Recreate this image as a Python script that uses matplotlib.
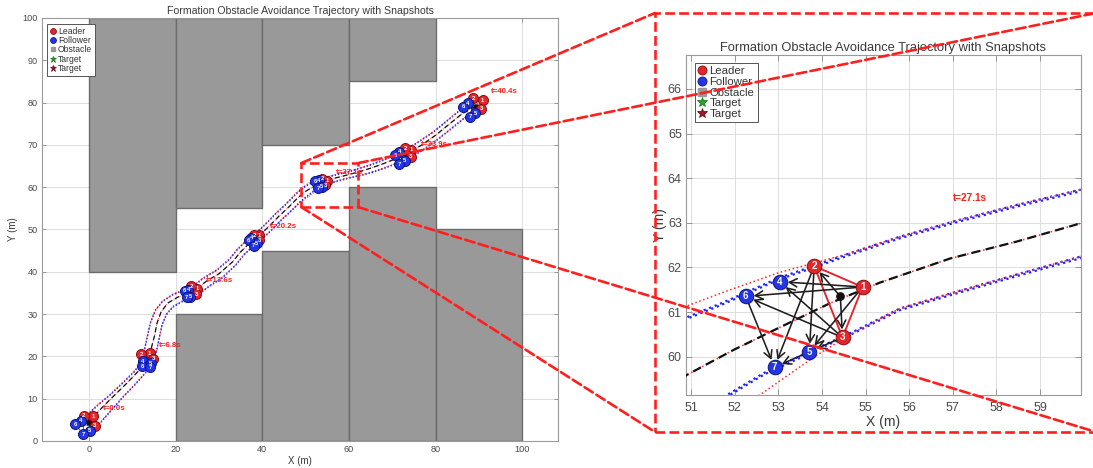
import matplotlib
matplotlib.use("Agg")
import matplotlib.pyplot as plt
import matplotlib.transforms as mtransforms
from matplotlib.patches import Rectangle, ConnectionPatch
from matplotlib.lines import Line2D

plt.rcParams['font.family'] = ['Liberation Sans', 'DejaVu Sans']

# ---------------- data ----------------
# obstacles (lower-left corner, width, height)
obs_x0 = [0, 20, 40, 60, 20, 40, 60, 80]
obs_y0 = [40, 55, 70, 85, 0, 0, 0, 0]
obs_w = [20, 20, 20, 20, 20, 20, 20, 20]
obs_h = [60, 45, 30, 15, 30, 45, 60, 50]

# formation reference path (also followed by leader 1)
center_x = [0.1, 2.4, 4.8, 8.7, 11.7, 13.4, 14.4, 15.2, 15.7, 16.7, 18.2, 20.5, 22.8, 24.5, 27.0,
            30.1, 33.2, 34.9, 36.9, 38.9, 41.3, 43.8, 46.2, 48.2, 49.8, 50.9, 51.97, 53.04, 54.19,
            55.33, 56.94, 58.47, 59.94, 62.5, 65.0, 67.5, 70.0, 73.4, 76.5, 80.0, 83.0, 86.0, 89.3]
center_y = [4.6, 7.2, 9.7, 13.6, 16.8, 18.7, 21.9, 25.1, 27.8, 30.6, 32.6, 34.0, 34.9, 35.6, 37.7,
            39.6, 42.4, 44.6, 46.6, 48.2, 50.5, 53.1, 55.4, 57.5, 58.9, 59.59, 60.15, 60.66, 61.2,
            61.66, 62.2, 62.58, 62.99, 63.7, 64.5, 65.4, 66.4, 67.9, 69.8, 72.3, 74.8, 77.3, 79.2]

# left-side track (followers 4, 6 and leader 2)
upper_x = [-0.9, 1.9, 4.8, 8.0, 10.6, 12.0, 12.8, 13.5, 14.2, 15.3, 17.0, 19.4, 22.0, 24.0, 26.3,
           29.4, 32.4, 34.2, 36.2, 38.2, 40.6, 43.1, 45.5, 47.6, 49.2, 50.94, 51.7, 53.0, 54.65,
           55.79, 57.17, 58.47, 59.92, 62.3, 64.8, 67.2, 69.6, 72.9, 75.9, 79.4, 82.4, 85.4, 88.6]
upper_y = [5.7, 8.4, 10.9, 14.0, 16.6, 18.6, 21.5, 24.8, 28.0, 30.9, 33.1, 34.7, 35.8, 36.6, 38.5,
           40.4, 43.0, 45.3, 47.3, 48.9, 51.2, 53.8, 56.1, 58.3, 59.8, 60.9, 61.2, 61.76, 62.32,
           62.69, 63.07, 63.4, 63.74, 64.5, 65.3, 66.2, 67.2, 68.8, 70.7, 73.1, 75.6, 78.1, 80.6]
lead2_y = [5.7, 8.4, 10.9, 14.0, 16.6, 18.6, 21.5, 24.8, 28.0, 30.9, 33.1, 34.7, 35.8, 36.6, 38.5,
           40.4, 43.0, 45.3, 47.3, 48.9, 51.2, 53.8, 56.1, 58.5, 60.05, 61.15, 61.43, 61.88, 62.32,
           62.69, 63.07, 63.4, 63.74, 64.5, 65.3, 66.2, 67.2, 68.8, 70.7, 73.1, 75.6, 78.1, 80.6]

# right-side track (followers 5, 7 and leader 3)
lower_x = [1.8, 4.8, 7.9, 10.9, 13.4, 14.9, 15.7, 16.3, 16.9, 17.9, 19.4, 21.2, 23.1, 25.0, 27.7,
           30.8, 34.0, 35.6, 37.6, 39.6, 42.0, 44.5, 46.9, 48.8, 50.4, 51.82, 52.66, 53.8, 54.72,
           55.79, 57.0, 58.5, 59.92, 62.8, 65.3, 67.9, 70.5, 73.9, 77.1, 80.6, 83.7, 86.7, 90.2]
lower_y = [3.4, 6.9, 10.5, 13.7, 16.6, 19.0, 21.8, 24.7, 27.6, 30.0, 31.8, 32.9, 33.8, 34.5, 36.6,
           38.7, 41.8, 43.9, 45.9, 47.5, 49.8, 52.4, 54.7, 56.7, 58.0, 59.14, 59.63, 60.15, 60.56,
           61.08, 61.43, 61.85, 62.24, 62.9, 63.6, 64.5, 65.5, 67.0, 68.9, 71.5, 74.0, 76.5, 78.8]
lead3_y = [3.4, 6.9, 10.5, 13.7, 16.6, 19.0, 21.8, 24.7, 27.6, 30.0, 31.8, 32.9, 33.8, 34.5, 36.6,
           38.7, 41.8, 43.9, 45.9, 47.5, 49.8, 52.4, 54.7, 56.3, 57.5, 58.65, 59.2, 59.98, 60.54,
           61.08, 61.43, 61.85, 62.24, 62.9, 63.6, 64.5, 65.5, 67.0, 68.9, 71.5, 74.0, 76.5, 78.8]

# snapshots
snap_time = ['t=0.0s', 't=6.8s', 't=13.6s', 't=20.2s', 't=27.1s', 't=33.9s', 't=40.4s']
snap_cx = [0.1, 13.7, 24.3, 38.9, 54.42, 73.2, 89.3]
snap_cy = [4.6, 19.7, 35.5, 48.2, 61.35, 68.0, 78.9]
label_x = [3.2, 16.1, 27.1, 41.8, 57.0, 76.5, 92.8]
label_y = [7.6, 22.5, 37.9, 50.6, 63.55, 70.2, 82.6]

agent_ids = [1, 2, 3, 4, 5, 6, 7]
leader_ids = [1, 2, 3]
agent_x = [
    [0.99, -1.15, 1.38, -1.84, 0.23, -3.2, -1.3],
    [14.0, 12.1, 14.9, 12.4, 14.3, 12.3, 14.1],
    [25.0, 23.6, 24.8, 22.9, 23.4, 22.1, 22.6],
    [39.3, 38.1, 39.3, 37.5, 38.7, 36.9, 38.0],
    [54.93, 53.82, 54.47, 53.03, 53.71, 52.25, 52.91],
    [74.4, 72.9, 74.2, 71.6, 72.9, 70.6, 71.6],
    [90.8, 88.7, 90.5, 87.4, 89.1, 86.4, 88.0],
]
agent_y = [
    [5.9, 6.0, 3.6, 4.8, 2.4, 4.0, 1.6],
    [20.7, 20.5, 19.5, 18.8, 18.4, 17.7, 17.4],
    [36.0, 36.6, 34.7, 35.7, 34.1, 35.5, 34.0],
    [48.6, 48.6, 47.4, 48.0, 46.8, 47.5, 46.2],
    [61.56, 62.03, 60.43, 61.68, 60.11, 61.35, 59.76],
    [68.8, 69.2, 67.2, 68.4, 66.2, 67.6, 65.4],
    [80.6, 81.0, 78.5, 79.8, 77.5, 79.0, 76.7],
]
# communication graph (0 = virtual leader / formation centre)
leader_links = [(1, 2), (2, 3), (3, 1)]
graph_src = [1, 1, 1, 2, 2, 3, 3, 3, 6, 5, 0, 0]
graph_dst = [4, 6, 5, 5, 7, 4, 6, 5, 7, 7, 2, 3]

# highlighted region on the overview map: xmin, xmax, ymin, ymax
zoom_box = [49.0, 62.1, 55.3, 65.7]

legend_labels = ['Leader', 'Follower', 'Obstacle', 'Target', 'Target']
title = 'Formation Obstacle Avoidance Trajectory with Snapshots'

# ---------------- style ----------------
RED = '#e3262b'
RED_EDGE = '#8a0d10'
BLUE = '#2435e6'
BLUE_EDGE = '#0b157a'
RED_PATH = '#ff2d2d'
BLUE_PATH = '#1f22ff'
OBS_FACE = '#999999'
OBS_EDGE = '#6c6c6c'
ZOOM_RED = '#ff1f1f'
TXT = '#3a3a3a'

W, H = 1093, 468
fig = plt.figure(figsize=(W / 100, H / 100), dpi=100)


def fx(px):
    return px / W


def fy(py):
    return 1 - py / H


axL = fig.add_axes([fx(42), fy(441), fx(558) - fx(42), fy(18) - fy(441)])
axR = fig.add_axes([fx(686), fy(395), fx(1081) - fx(686), fy(55) - fy(395)])

axL.set_xlim(-10.8, 108.2)
axL.set_ylim(0, 100)
axR.set_xlim(50.88, 59.94)
axR.set_ylim(59.14, 66.76)


def draw_obstacles(ax, lw):
    for x0, y0, w, h in zip(obs_x0, obs_y0, obs_w, obs_h):
        ax.add_patch(Rectangle((x0, y0), w, h, facecolor=OBS_FACE, edgecolor=OBS_EDGE,
                               lw=lw, zorder=1))


def draw_paths(ax, lw, shift_pt, dash):
    down = ax.transData + mtransforms.ScaledTranslation(0, -shift_pt / 72, fig.dpi_scale_trans)
    # followers
    ax.plot(upper_x, upper_y, ls=':', color=BLUE_PATH, lw=lw, zorder=2)
    ax.plot(upper_x, upper_y, ls=':', color=BLUE_PATH, lw=lw, zorder=2, transform=down)
    ax.plot(lower_x, lower_y, ls=':', color=BLUE_PATH, lw=lw, zorder=2)
    ax.plot(lower_x, lower_y, ls=':', color=BLUE_PATH, lw=lw, zorder=2, transform=down)
    # leaders
    ax.plot(upper_x, lead2_y, ls=':', color=RED_PATH, lw=lw * 0.7, zorder=2)
    ax.plot(lower_x, lead3_y, ls=':', color=RED_PATH, lw=lw * 0.7, zorder=2)
    ax.plot(center_x, center_y, ls=':', color=RED_PATH, lw=lw * 0.7, zorder=2)
    # formation reference
    ax.plot(center_x, center_y, ls=(0, dash), color='#111111', lw=lw, zorder=3)


def draw_snapshots(ax, ms, num_fs, lw_graph, head, label_fs, visible_only):
    x0, x1 = ax.get_xlim()
    y0, y1 = ax.get_ylim()
    for k in range(len(snap_time)):
        cx, cy = snap_cx[k], snap_cy[k]
        if visible_only and not (x0 < cx < x1 and y0 < cy < y1):
            continue
        pos = {0: (cx, cy)}
        for i, aid in enumerate(agent_ids):
            pos[aid] = (agent_x[k][i], agent_y[k][i])
        for a, b in leader_links:
            ax.plot([pos[a][0], pos[b][0]], [pos[a][1], pos[b][1]], color=RED,
                    lw=lw_graph * 1.2, zorder=4, solid_capstyle='round')
        for a, b in zip(graph_src, graph_dst):
            ax.annotate('', xy=pos[b], xytext=pos[a], zorder=4,
                        arrowprops=dict(arrowstyle=head, color='#1e1e1e', lw=lw_graph,
                                        shrinkA=0, shrinkB=ms * 0.55 if b else 2))
        ax.plot(cx, cy, 'o', color='#111111', ms=ms * 0.5, zorder=5)
        for i, aid in enumerate(agent_ids):
            lead = aid in leader_ids
            ax.plot(agent_x[k][i], agent_y[k][i], 'o', ms=ms,
                    mfc=RED if lead else BLUE, mec=RED_EDGE if lead else BLUE_EDGE,
                    mew=0.7, zorder=6)
            ax.text(agent_x[k][i], agent_y[k][i], str(aid), color='white', fontsize=num_fs,
                    fontweight='bold', ha='center', va='center', zorder=7)
        ax.text(label_x[k], label_y[k], snap_time[k], color=ZOOM_RED, fontsize=label_fs,
                fontweight='bold', ha='left', va='center', zorder=7)


def style_axes(ax, fs_tick, fs_lab, fs_title, tick_len, pad_x, pad_y, lpad_x, lpad_y):
    ax.set_axisbelow(True)
    ax.grid(True, color='#dddddd', lw=0.7)
    for sp in ax.spines.values():
        sp.set_color('#9a9a9a')
        sp.set_linewidth(0.8)
    ax.tick_params(direction='in', top=True, right=True, length=tick_len, width=0.6,
                   color='#8a8a8a', labelcolor='#4a4a4a', labelsize=fs_tick)
    ax.tick_params(axis='x', pad=pad_x)
    ax.tick_params(axis='y', pad=pad_y)
    ax.set_xlabel('X (m)', fontsize=fs_lab, color=TXT, labelpad=lpad_x)
    ax.set_ylabel('Y (m)', fontsize=fs_lab, color=TXT, labelpad=lpad_y)
    ax.set_title(title, fontsize=fs_title, color=TXT, pad=3)


def add_legend(ax, fs, ms, dx_px, dy_px):
    bb = ax.get_position()
    handles = [
        Line2D([], [], ls='none', marker='o', ms=ms, mfc=RED, mec=RED_EDGE, mew=0.6),
        Line2D([], [], ls='none', marker='o', ms=ms, mfc=BLUE, mec=BLUE_EDGE, mew=0.6),
        Line2D([], [], ls='none', marker='s', ms=ms * 0.85, mfc=OBS_FACE, mec=OBS_FACE),
        Line2D([], [], ls='none', marker='*', ms=ms * 1.2, mfc='#2aa52a', mec='#137013', mew=0.5),
        Line2D([], [], ls='none', marker='*', ms=ms * 1.2, mfc='#a3182a', mec='#5c0010', mew=0.5),
    ]
    ax_w = bb.width * W
    ax_h = bb.height * H
    leg = ax.legend(handles, legend_labels, loc='upper left',
                    bbox_to_anchor=(dx_px / ax_w, 1 - dy_px / ax_h), borderaxespad=0,
                    fontsize=fs, handlelength=0.7, handletextpad=0.25, labelspacing=0.05,
                    borderpad=0.3, fancybox=False, framealpha=1, edgecolor='#555555')
    leg.get_frame().set_linewidth(0.7)
    for t in leg.get_texts():
        t.set_color('#333333')
    leg.set_zorder(9)


# ---------------- overview ----------------
draw_obstacles(axL, 1.0)
draw_paths(axL, 0.9, 0.5, (4, 2.5))
draw_snapshots(axL, ms=7.2, num_fs=4.2, lw_graph=0.5, head='-', label_fs=5.7,
               visible_only=False)
axL.set_xticks([0, 20, 40, 60, 80, 100])
axL.set_yticks(list(range(0, 101, 10)))
style_axes(axL, fs_tick=6.6, fs_lab=7, fs_title=7.6, tick_len=3, pad_x=3, pad_y=3,
           lpad_x=1, lpad_y=3)
add_legend(axL, fs=6.2, ms=4.2, dx_px=5, dy_px=6)

# ---------------- detail view ----------------
draw_obstacles(axR, 1.2)
draw_paths(axR, 1.6, 1.2, (4, 2.5))
draw_snapshots(axR, ms=10.5, num_fs=7, lw_graph=1.15,
               head='->,head_length=0.55,head_width=0.3', label_fs=7.2, visible_only=True)
axR.set_xticks(list(range(51, 60)))
axR.set_yticks(list(range(60, 67)))
style_axes(axR, fs_tick=9, fs_lab=10, fs_title=9.3, tick_len=4, pad_x=5, pad_y=3,
           lpad_x=1, lpad_y=0.5)
add_legend(axR, fs=8.2, ms=6.5, dx_px=9, dy_px=8)

# ---------------- zoom indicator ----------------
bx0, bx1, by0, by1 = zoom_box
axL.add_patch(Rectangle((bx0, by0), bx1 - bx0, by1 - by0, fill=False, edgecolor=ZOOM_RED,
                        lw=1.9, ls='--', zorder=8, clip_on=False))
big_l, big_r, big_t, big_b = fx(655), fx(1096), fy(13), fy(432)
fig.add_artist(Rectangle((big_l, big_b), big_r - big_l, big_t - big_b,
                         transform=fig.transFigure, fill=False, edgecolor=ZOOM_RED,
                         lw=1.9, ls='--', zorder=10, clip_on=False))
for (xa, ya), (xb, yb) in [((bx0, by1), (big_l, big_t)), ((bx1, by1), (big_r, big_t)),
                           ((bx0, by0), (big_l, big_b)), ((bx1, by0), (big_r, big_b))]:
    con = ConnectionPatch(xyA=(xa, ya), coordsA=axL.transData, xyB=(xb, yb),
                          coordsB=fig.transFigure, color=ZOOM_RED, lw=1.9, ls='--', zorder=10)
    con.set_clip_on(False)
    fig.add_artist(con)

fig.savefig('out.png', dpi=100, facecolor='white')
